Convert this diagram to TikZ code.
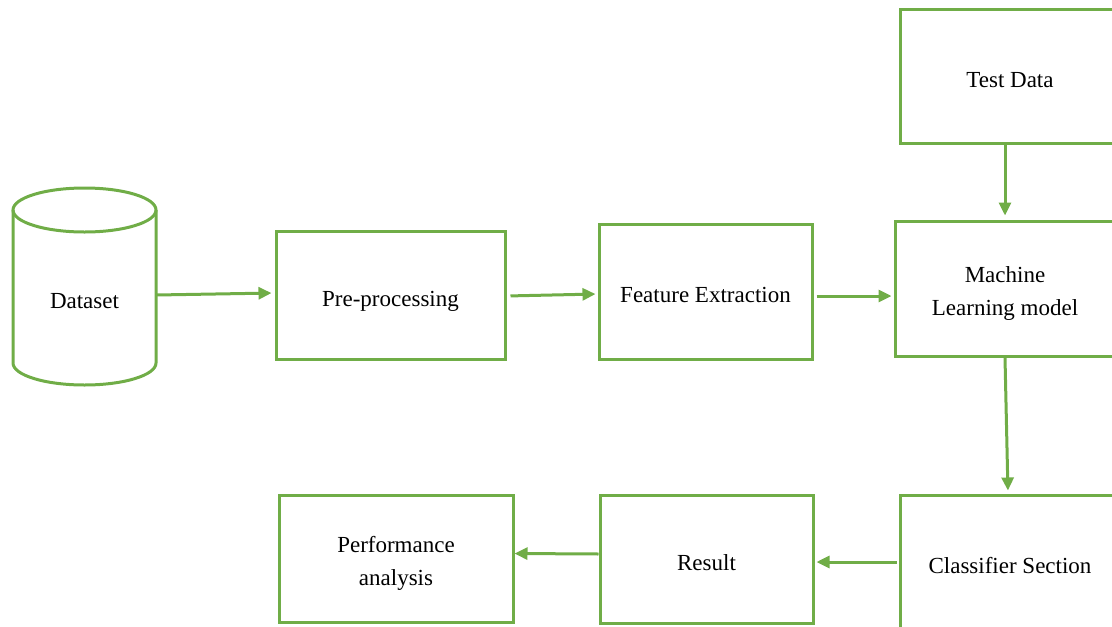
\documentclass[tikz,border=0pt]{standalone}
\usepackage{fontspec}
\setmainfont{Liberation Serif}
\usetikzlibrary{arrows.meta}

\definecolor{flowgreen}{HTML}{70AD47}

\begin{document}
\begin{tikzpicture}[x=1pt,y=-1pt,
    box/.style={draw=flowgreen,line width=3pt,rectangle,align=center,
      text height=22pt,text depth=0pt,font=\fontsize{23}{33}\selectfont},
    twoline/.style={text height=54pt},
    flow/.style={draw=flowgreen,line width=3pt,-{Triangle[length=13pt,width=12pt]}}]

      \useasboundingbox (0,0) rectangle (1112,627);
      \clip (0,0) rectangle (1112,627);

      % dataset cylinder
      \draw[flowgreen,line width=3pt] (84.5,210) ellipse [x radius=71.5pt,y radius=22pt];
      \draw[flowgreen,line width=3pt] (13,210) -- (13,363)
        arc [start angle=180,end angle=360,x radius=71.5pt,y radius=22pt] -- (156,210);
      \node[minimum width=143pt,minimum height=110pt,inner sep=0pt,text height=22pt,text depth=0pt,
        font=\fontsize{23}{33}\selectfont] (dataset) at (84.5,297) {Dataset};

      \begin{scope}[every node/.style={box}]
        \node[minimum width=229pt,minimum height=128pt] (pre) at (390.5,295) {Pre-processing};
        \node[minimum width=213pt,minimum height=135pt] (feat) at (705.5,291.5) {Feature Extraction};
        \node[twoline,minimum width=220pt,minimum height=135pt] (ml) at (1005,288.5) {Machine\\Learning model};
        \node[minimum width=220pt,minimum height=134pt] (test) at (1010,76) {Test Data};
        \node[minimum width=220pt,minimum height=134pt] (cls) at (1010,562) {Classifier Section};
        \node[minimum width=213pt,minimum height=128pt] (res) at (706.5,559) {Result};
        \node[twoline,minimum width=234pt,minimum height=127pt] (perf) at (396,558.5) {Performance\\analysis};
      \end{scope}

      \begin{scope}[every edge/.style={flow}]
        \path ([yshift=2pt]dataset.east) edge[shorten >=3pt] ([yshift=2pt]pre.west);
        \path ([yshift=-1pt]pre.east) edge[shorten <=4pt,shorten >=2pt] ([yshift=-2.5pt]feat.west);
        \path ([yshift=-4.5pt]feat.east) edge[shorten <=3pt,shorten >=2pt] ([yshift=-7.5pt]ml.west);
        \path ([xshift=-5pt]test.south) edge[shorten >=4pt] (ml.north);
        \path (ml.south) edge[shorten >=3pt] ([xshift=-2pt]cls.north);
        \path (cls.west) edge[shorten <=2pt,shorten >=2pt] ([yshift=-3pt]res.east);
        \path ([yshift=5pt]res.west) edge ([yshift=5pt]perf.east);
      \end{scope}

    \end{tikzpicture}
\end{document}
